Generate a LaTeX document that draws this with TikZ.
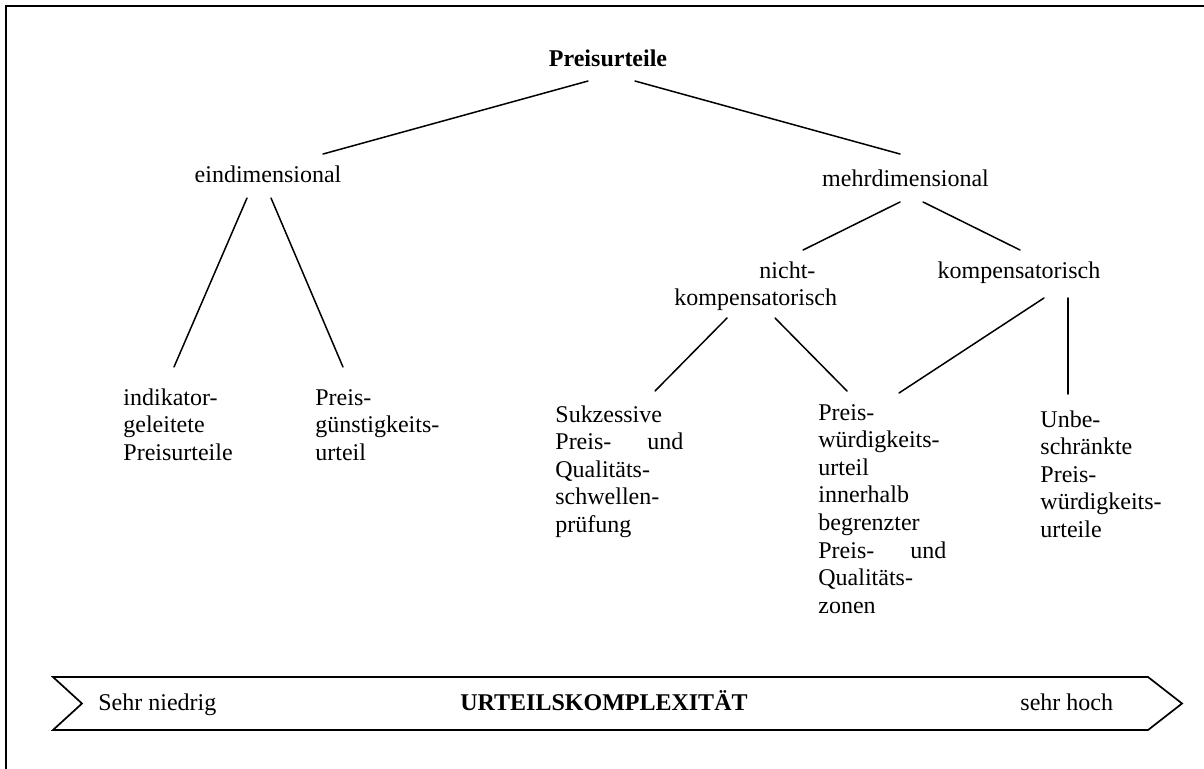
\documentclass[tikz,border=0pt]{standalone}
\usepackage{fontspec}
\setmainfont{Liberation Serif}
\begin{document}
\begin{tikzpicture}[line cap=round,
  lbl/.style={font=\fontsize{12}{13.8}\selectfont, inner sep=0pt},
  blk/.style={lbl, text width=64pt, align=left, anchor=base west},
  edge/.style={line width=0.75pt}]

\useasboundingbox (0,0) rectangle (21.16,-13.515);

% frame, only its top and left side fall on the page
\draw[line width=1pt, line cap=butt] (0.114,-13.515) -- (0.114,-0.114) -- (21.16,-0.114);

% tree of judgement types
\node[lbl, anchor=base, font=\fontsize{12}{13.8}\selectfont\bfseries] (pu) at (10.686,-1.160) {Preisurteile};
\node[lbl, anchor=base] (ein) at (4.710,-3.216) {eindimensional};
\node[lbl, anchor=base] (mehr) at (15.914,-3.269) {mehrdimensional};
\node[blk, text width=82pt] (nkomp) at (11.846,-4.886) {\hspace*{42.5pt}nicht-\\kompensatorisch};
\node[lbl, anchor=base] (komp) at (17.909,-4.903) {kompensatorisch};

% leaves
\node[blk] (ind) at (2.162,-7.118) {indikator-\\geleitete\\Preisurteile};
\node[blk] (pg) at (5.536,-7.118) {Preis-\\günstigkeits-\\urteil};
\node[blk] (suk) at (9.754,-7.417) {Sukzessive\\Preis-\hfill und\\Qualitäts-\\schwellen-\\prüfung};
\node[blk] (pw) at (14.376,-7.382) {Preis-\\würdigkeits-\\urteil\\innerhalb\\begrenzter\\Preis-\hfill und\\Qualitäts-\\zonen};
\node[blk] (unb) at (18.278,-7.505) {Unbe-\\schränkte\\Preis-\\würdigkeits-\\urteile};

% line ends (the lines stop short of the texts)
\coordinate (pu-l) at (10.334,-1.424);
\coordinate (pu-r) at (11.160,-1.424);
\coordinate (ein-t) at (5.677,-2.707);
\coordinate (mehr-t) at (15.818,-2.707);
\coordinate (ein-l) at (4.341,-3.480);
\coordinate (ein-r) at (4.763,-3.480);
\coordinate (ind-t) at (3.058,-6.450);
\coordinate (pg-t) at (6.028,-6.450);
\coordinate (mehr-l) at (15.818,-3.550);
\coordinate (mehr-r) at (16.222,-3.550);
\coordinate (nkomp-t) at (14.113,-4.394);
\coordinate (komp-t) at (17.927,-4.394);
\coordinate (nkomp-l) at (12.777,-5.589);
\coordinate (nkomp-r) at (13.621,-5.589);
\coordinate (suk-t) at (11.512,-6.872);
\coordinate (pw-t) at (14.886,-6.872);
\coordinate (komp-l) at (18.348,-5.237);
\coordinate (komp-r) at (18.770,-5.237);
\coordinate (pw-t2) at (15.800,-6.907);
\coordinate (unb-t) at (18.770,-6.925);

\draw[edge] (pu-l) -- (ein-t);
\draw[edge] (pu-r) -- (mehr-t);
\draw[edge] (ein-l) -- (ind-t);
\draw[edge] (ein-r) -- (pg-t);
\draw[edge] (mehr-l) -- (nkomp-t);
\draw[edge] (mehr-r) -- (komp-t);
\draw[edge] (nkomp-l) -- (suk-t);
\draw[edge] (nkomp-r) -- (pw-t);
\draw[edge] (komp-l) -- (pw-t2);
\draw[edge] (komp-r) -- (unb-t);

% complexity banner
\draw[line width=0.85pt, line join=miter] (0.931,-11.898) -- (20.176,-11.898) -- (20.774,-12.364)
  -- (20.176,-12.830) -- (0.931,-12.830) -- (1.441,-12.364) -- cycle;
\node[lbl, anchor=base west] (low) at (1.722,-12.487) {Sehr niedrig};
\node[lbl, anchor=base, font=\fontsize{12}{13.8}\selectfont\bfseries] (cx) at (10.615,-12.487) {URTEILSKOMPLEXITÄT};
\node[lbl, anchor=base west] (high) at (17.927,-12.487) {sehr hoch};

\end{tikzpicture}
\end{document}
